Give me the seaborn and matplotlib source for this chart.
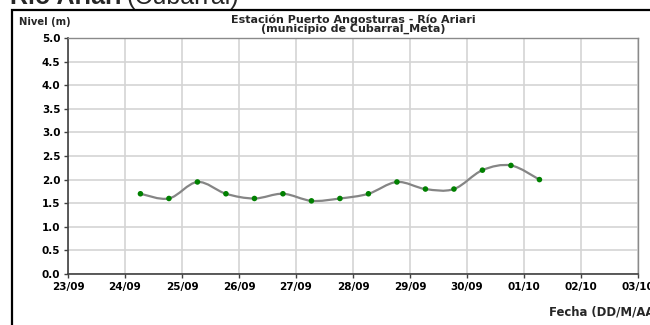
import numpy as np
import pandas as pd
import matplotlib
matplotlib.use("Agg")
import matplotlib.pyplot as plt
import matplotlib.dates as mdates
from matplotlib.path import Path
from matplotlib.patches import PathPatch, Rectangle
import seaborn as sns

# ---------------- data ----------------
times = ["2013-09-24 06:30", "2013-09-24 18:30",
         "2013-09-25 06:30", "2013-09-25 18:30",
         "2013-09-26 06:30", "2013-09-26 18:30",
         "2013-09-27 06:30", "2013-09-27 18:30",
         "2013-09-28 06:30", "2013-09-28 18:30",
         "2013-09-29 06:30", "2013-09-29 18:30",
         "2013-09-30 06:30", "2013-09-30 18:30",
         "2013-10-01 06:30"]
nivel = [1.70, 1.60, 1.95, 1.70, 1.60, 1.70, 1.55, 1.60,
         1.70, 1.95, 1.80, 1.80, 2.20, 2.30, 2.00]
x_start = "2013-09-23"
x_end = "2013-10-03"
y_ticks = [0.0, 0.5, 1.0, 1.5, 2.0, 2.5, 3.0, 3.5, 4.0, 4.5, 5.0]

title = "Estación Puerto Angosturas - Río Ariari\n(municipio de Cubarral_Meta)"
ylab = "Nivel (m)"
xlab = "Fecha (DD/M/AA)"
top_bold = "Río Ariari"
top_reg = "(Cubarral)"

df = pd.DataFrame({"fecha": pd.to_datetime(times), "nivel": nivel})

# ---------------- style ----------------
sns.set_theme(style="white")
plt.rcParams["font.family"] = ["DejaVu Sans"]

W, H = 650, 325
fig = plt.figure(figsize=(W / 100, H / 100), dpi=100)
ax = fig.add_axes([68 / W, 1 - 274 / H, (638 - 68) / W, (274 - 38) / H])

# smooth line (Catmull-Rom style bezier through the data points)
xs = mdates.date2num(df["fecha"])
ys = df["nivel"].to_numpy()
pts = np.column_stack([xs, ys])
n = len(pts)
verts = [pts[0]]
codes = [Path.MOVETO]
for i in range(n - 1):
    p0 = pts[i - 1] if i > 0 else pts[i]
    p1 = pts[i]
    p2 = pts[i + 1]
    p3 = pts[i + 2] if i + 2 < n else pts[i + 1]
    c1 = p1 + (p2 - p0) / 6.0
    c2 = p2 - (p3 - p1) / 6.0
    verts += [c1, c2, p2]
    codes += [Path.CURVE4] * 3
ax.add_patch(PathPatch(Path(verts, codes), facecolor="none",
                       edgecolor="#858585", lw=1.6, zorder=2))

sns.scatterplot(data=df, x="fecha", y="nivel", ax=ax, color="#008000",
                s=16, edgecolor="none", zorder=3, legend=False)

ax.set_xlim(pd.Timestamp(x_start), pd.Timestamp(x_end))
ax.set_ylim(0, 5)
ax.set_yticks(y_ticks)
ax.yaxis.set_major_formatter(matplotlib.ticker.FormatStrFormatter("%.1f"))
ax.xaxis.set_major_locator(mdates.DayLocator())
ax.xaxis.set_major_formatter(mdates.DateFormatter("%d/%m"))
ax.set_xlabel("")
ax.set_ylabel("")

ax.grid(True, color="#d4d4d4", lw=1.2)
ax.set_axisbelow(True)
for side in ["left", "bottom"]:
    ax.spines[side].set_color("#404040")
    ax.spines[side].set_linewidth(1.2)
for side in ["top", "right"]:
    ax.spines[side].set_color("#8a8a8a")
    ax.spines[side].set_linewidth(1.0)

ax.tick_params(axis="both", which="major", length=3, width=1,
               color="#404040", direction="out", pad=2.5,
               labelsize=7.5, labelcolor="black")
ax.tick_params(axis="both", bottom=True, left=True)
for lbl in ax.get_xticklabels() + ax.get_yticklabels():
    lbl.set_fontweight("bold")

# outer black frame
fig.patches.append(Rectangle((12 / W, -0.2), 2.0, 1.2 - 10 / H,
                             transform=fig.transFigure, fill=False,
                             edgecolor="black", lw=1.6, zorder=10))

fig.text(353 / W, 1 - 24 / H, title, ha="center", va="center",
         fontsize=8, fontweight="bold", linespacing=0.9)
fig.text(19 / W, 1 - 22 / H, ylab, ha="left", va="center",
         fontsize=7.2, fontweight="bold")
fig.text(549 / W, 1 - 312 / H, xlab, ha="left", va="center",
         fontsize=8.4, fontweight="bold")

fig.text(122 / W, 1 - 4 / H, top_bold, ha="right", va="baseline",
         fontsize=18, fontweight="bold", family=["Liberation Sans"])
fig.text(127 / W, 1 - 4 / H, top_reg, ha="left", va="baseline",
         fontsize=18, family=["Liberation Sans"])

fig.savefig("out.png", dpi=100)
